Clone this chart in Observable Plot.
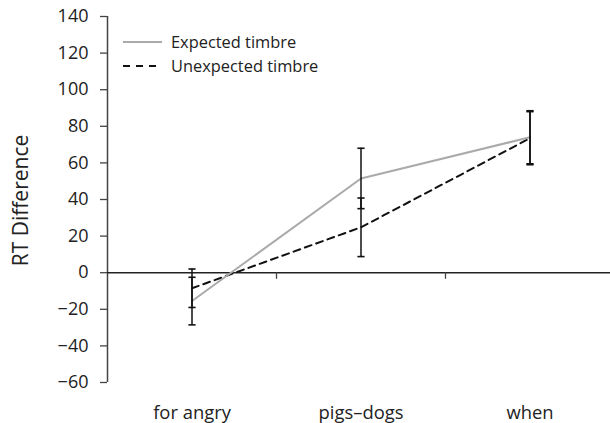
<!DOCTYPE html>
<html>
<head>
<meta charset="utf-8">
<script src="https://cdn.jsdelivr.net/npm/d3@7"></script>
<script src="https://cdn.jsdelivr.net/npm/@observablehq/plot@0.6"></script>
<style>
  body { margin: 0; background: #fff; }
  #wrap { position: relative; width: 610px; height: 423px; font-family: "Open Sans", sans-serif; }
  #legend { position: absolute; left: 123px; top: 30px; font-size: 16.4px; color: #222; }
  #legend .row { display: flex; align-items: center; height: 23.7px; }
  #legend svg { margin-right: 9px; }
</style>
</head>
<body>
<div id="wrap">
  <div id="chart"></div>
  <div id="legend"></div>
</div>
<script>
const categories = ["for angry", "pigs–dogs", "when"];
const series = ["Expected timbre", "Unexpected timbre"];
const expected = [-15.5, 51.5, 74];
const expectedErr = [13, 16.5, 14.5];
const unexpected = [-8.5, 24.8, 73.5];
const unexpectedErr = [10.5, 16, 14.5];
const yTicks = [-60, -40, -20, 0, 20, 40, 60, 80, 100, 120, 140];
const yLabel = "RT Difference";

const colors = {"Expected timbre": "#aaaaaa", "Unexpected timbre": "#111111"};
const dashes = {"Expected timbre": null, "Unexpected timbre": "7,6"};
const widths = {"Expected timbre": 2, "Unexpected timbre": 2};

const rows = [];
categories.forEach((c, i) => {
  rows.push({i, cat: c, s: series[0], v: expected[i], e: expectedErr[i]});
  rows.push({i, cat: c, s: series[1], v: unexpected[i], e: unexpectedErr[i]});
});
const lo = rows.map(d => ({...d, y: d.v - d.e}));
const hi = rows.map(d => ({...d, y: d.v + d.e}));

const capSymbol = {
  draw(ctx, size) {
    const w = Math.sqrt(size / Math.PI);
    ctx.moveTo(-w, 0);
    ctx.lineTo(w, 0);
  }
};

const chart = Plot.plot({
  width: 610,
  height: 423,
  marginLeft: 107,
  marginRight: -4,
  marginTop: 16,
  marginBottom: 41,
  style: {fontFamily: "Open Sans, sans-serif", fontSize: "18px", color: "#222", overflow: "visible"},
  x: {type: "linear", domain: [-0.5, categories.length - 0.5]},
  y: {domain: [-60, 140]},
  marks: [
    Plot.axisY({ticks: yTicks, tickSize: 7, tickPadding: 12, tickFormat: d => d < 0 ? "\u2212" + Math.abs(d) : String(d), label: null, stroke: "#444", strokeWidth: 1.3, fontSize: 18}),
    Plot.axisX({ticks: categories.map((c, i) => i), tickSize: 0, tickPadding: 23, tickFormat: i => categories[i], label: null, fontSize: 18.4}),
    Plot.ruleX([-0.5], {y1: -60, y2: 140, stroke: "#444", strokeWidth: 1.5}),
    Plot.ruleY([0], {stroke: "#222", strokeWidth: 1.5}),
    Plot.ruleX([0.5, 1.5], {y1: 0, y2: -3.6, stroke: "#444", strokeWidth: 1.3}),
    Plot.text([yLabel], {frameAnchor: "left", textAnchor: "middle", dx: -86.5, dy: 1, rotate: -90, fontSize: 21, fill: "#222"}),
    Plot.line(rows, {x: "i", y: "v", z: "s", stroke: "#111111", strokeWidth: 2, strokeDasharray: "7,5", filter: d => d.s === series[1]}),
    Plot.line(rows, {x: "i", y: "v", z: "s", stroke: "#aaaaaa", strokeWidth: 2, filter: d => d.s === series[0]}),
    Plot.ruleX(rows, {x: "i", y1: d => d.v - d.e, y2: d => d.v + d.e, stroke: "#111", strokeWidth: 1.5}),
    Plot.dot(lo, {x: "i", y: "y", symbol: capSymbol, r: 3.6, stroke: "#111", strokeWidth: 1.6}),
    Plot.dot(hi, {x: "i", y: "y", symbol: capSymbol, r: 3.6, stroke: "#111", strokeWidth: 1.6})
  ]
});
document.getElementById("chart").appendChild(chart);

const legend = d3.select("#legend");
series.forEach(s => {
  const row = legend.append("div").attr("class", "row");
  const svg = row.append("svg").attr("width", 39).attr("height", 10);
  svg.append("line").attr("x1", 0).attr("x2", 39).attr("y1", 5).attr("y2", 5)
    .attr("stroke", colors[s]).attr("stroke-width", widths[s])
    .attr("stroke-dasharray", dashes[s]);
  row.append("span").text(s);
});
</script>
</body>
</html>
